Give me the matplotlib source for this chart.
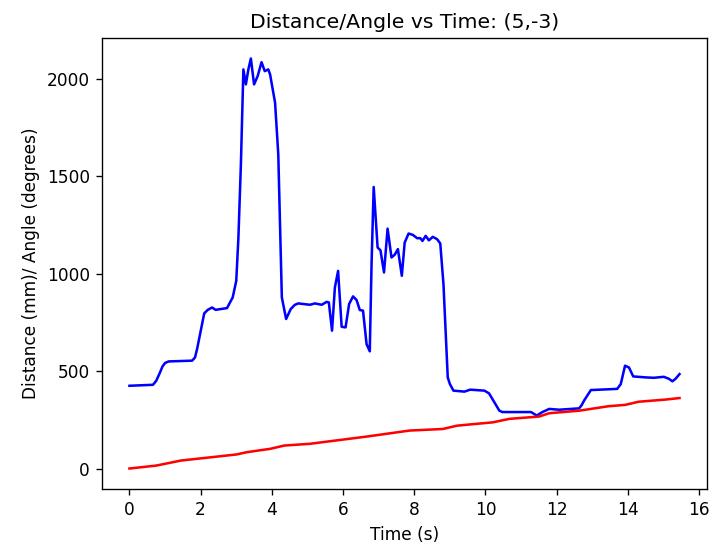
import matplotlib
matplotlib.use("Agg")
import matplotlib.pyplot as plt

# distance trace (blue)
time_dist = [0.0, 0.66, 0.75, 0.85, 0.93, 1.0, 1.1, 1.76, 1.84, 1.9, 2.1, 2.2, 2.32, 2.42,
             2.74, 2.9, 3.0, 3.06, 3.13,
             3.2, 3.27, 3.34, 3.41, 3.5, 3.6, 3.71, 3.8, 3.9, 3.95, 4.09, 4.18, 4.28,
             4.4, 4.53, 4.64, 4.74, 5.07, 5.21, 5.4, 5.54, 5.6, 5.69, 5.77, 5.86, 5.96,
             6.07, 6.17, 6.28, 6.38, 6.47, 6.56, 6.66, 6.75, 6.8, 6.86, 6.97, 7.05, 7.15,
             7.25, 7.36, 7.45, 7.54, 7.65, 7.73, 7.84, 7.96, 8.08, 8.17, 8.23, 8.32,
             8.41, 8.52, 8.64, 8.73, 8.82, 8.94, 9.0, 9.1, 9.41, 9.57, 9.97, 10.1,
             10.25, 10.39, 10.48, 11.28, 11.44, 11.6, 11.79, 12.07, 12.63, 12.7, 12.77,
             12.96, 13.7, 13.8, 13.92, 14.03, 14.15, 14.5, 14.73, 15.01, 15.15, 15.25,
             15.34, 15.45]
distance = [425, 430, 450, 490, 525, 542, 550, 554, 570, 614, 797, 815, 827, 815,
            824, 879, 964, 1186, 1562,
            2050, 1973, 2050, 2106, 1973, 2015, 2087, 2041, 2050, 2024, 1879, 1614, 879,
            768, 819, 840, 848, 841, 848, 841, 856, 853, 708, 930, 1015, 728,
            725, 845, 884, 865, 814, 811, 639, 602, 1050, 1446, 1135, 1121, 1007,
            1232, 1084, 1098, 1127, 990, 1160, 1207, 1200, 1183, 1183, 1169, 1195,
            1172, 1190, 1178, 1156, 947, 468, 434, 400, 395, 405, 400, 386,
            340, 297, 290, 290, 272, 290, 306, 302, 309, 325, 349,
            403, 409, 434, 528, 519, 473, 468, 466, 471, 461, 448,
            461, 485]

# angle trace (red)
time_angle = [0.0, 0.75, 1.45, 1.9, 3.0, 3.3, 3.95, 4.35, 5.07, 6.66, 7.87, 8.8, 9.2,
              9.66, 10.2, 10.67, 11.51, 11.79, 12.63, 13.46, 13.93, 14.3, 15.05, 15.45]
angle = [0, 15, 41, 50, 72, 84, 101, 118, 127, 164, 195, 203, 220,
         228, 237, 255, 267, 284, 297, 320, 327, 343, 354, 362]

fig = plt.figure(figsize=(718 / 122, 553 / 122), dpi=122)
ax = fig.add_axes([0.142, 0.1157, 0.8427, 0.8156])

ax.plot(time_dist, distance, color='b')
ax.plot(time_angle, angle, color='r')

ax.set_title('Distance/Angle vs Time: (5,-3)')
ax.set_xlabel('Time (s)')
ax.set_ylabel('Distance (mm)/ Angle (degrees)')
ax.set_xticks([0, 2, 4, 6, 8, 10, 12, 14, 16])
ax.set_yticks([0, 500, 1000, 1500, 2000])

fig.savefig('out.png', dpi=122)
